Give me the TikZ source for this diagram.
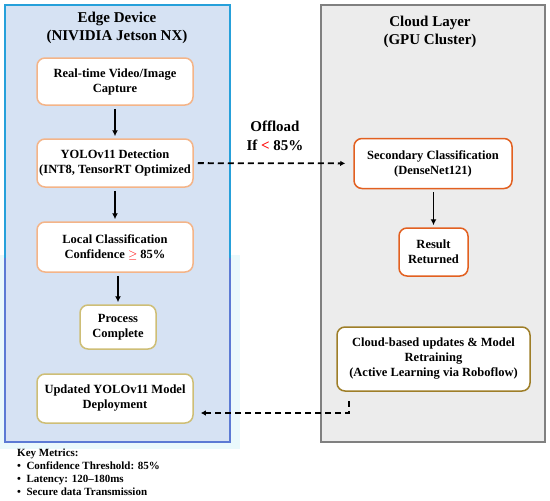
\documentclass[tikz,border=0pt]{standalone}
\usepackage{fontspec}
\setmainfont{Liberation Serif}
\usetikzlibrary{arrows.meta}
\definecolor{edgefill}{RGB}{214,226,243}
\definecolor{edgetop}{RGB}{38,160,218}
\definecolor{edgebot}{RGB}{92,122,212}
\definecolor{halo}{RGB}{234,249,252}
\definecolor{cloudfill}{RGB}{236,236,236}
\definecolor{cloudline}{RGB}{128,128,128}
\definecolor{softorange}{RGB}{244,180,136}
\definecolor{deeporange}{RGB}{226,96,32}
\definecolor{tan}{RGB}{206,190,118}
\definecolor{olive}{RGB}{158,126,40}
\begin{document}
\begin{tikzpicture}[x=1pt, y=-1pt,
  box/.style={draw=#1, rounded corners=8pt, line width=1.5pt, fill=white, align=center,
    font=\bfseries\fontsize{12.5}{15}\selectfont, inner sep=2pt},
  title/.style={align=center, font=\bfseries\fontsize{15}{18.5}\selectfont},
  flow/.style={-{Latex[length=6pt,width=6pt]}, line width=1.8pt, shorten <=3pt, shorten >=2pt},
  dasharrow/.style={-{Latex[length=5pt,width=5.5pt]}, line width=1.8pt, dash pattern=on 6pt off 4pt}]
  \useasboundingbox (0,0) rectangle (550,501);

  % panels
  \fill[halo] (0,255) rectangle (240,449);
  \fill[edgefill] (5,5) rectangle (230,442);
  \draw[edgetop, line width=2.5pt] (5,258) -- (5,5) -- (230,5) -- (230,258);
  \draw[edgebot, line width=2.5pt] (5,258) -- (5,442) -- (230,442) -- (230,258);
  \draw[cloudline, fill=cloudfill, line width=2.5pt] (321,5) rectangle (545,442);

  \node[title] (edgetitle) at (117,28) {Edge Device\\(NIVIDIA Jetson NX)};
  \node[title] (cloudtitle) at (430,32) {Cloud Layer\\(GPU Cluster)};

  % edge side
  \node[box=softorange, minimum width=156pt, minimum height=47pt] (cap) at (115,81.5)
    {Real-time Video/Image\\Capture};
  \node[box=softorange, minimum width=156pt, minimum height=48pt] (yolo) at (115,163)
    {YOLOv11 Detection\\(INT8, TensorRT Optimized};
  \node[box=softorange, minimum width=156pt, minimum height=50pt] (local) at (115,247)
    {Local Classification\\Confidence {\color{red}$\geq$} 85\%};
  \node[box=tan, minimum width=76pt, minimum height=44pt] (done) at (118,327)
    {Process\\Complete};
  \node[box=tan, minimum width=156pt, minimum height=49pt] (upd) at (115,398.5)
    {Updated YOLOv11 Model\\Deployment};

  % cloud side
  \node[box=deeporange, minimum width=158pt, minimum height=50pt] (sec) at (433,163.5)
    {Secondary Classification\\(DenseNet121)};
  \node[box=deeporange, minimum width=69pt, minimum height=48pt] (res) at (433.5,252)
    {Result\\Returned};
  \node[box=olive, minimum width=193pt, minimum height=64pt] (retrain) at (433.5,359)
    {Cloud-based updates \& Model\\Retraining\\(Active Learning via Roboflow)};

  \draw[flow] (cap) -- (yolo);
  \draw[flow] (yolo) -- (local);
  \draw[flow] (local.south -| done.north) -- (done);
  \draw[flow] (sec.south -| res.north) -- (res);

  \draw[dasharrow, shorten <=4pt, shorten >=8pt] (yolo) -- (sec);
  \node[title] (offload) at (275,136) {Offload\\If {\color{red}<} 85\%};

  \coordinate (back) at (349,401);
  \draw[dasharrow, shorten >=7pt] (back) |- ([yshift=-14.5pt]upd.east);

  \node[anchor=north west, align=left, font=\bfseries\fontsize{11}{13}\selectfont, inner sep=0pt] (metrics) at (17,449)
    {Key Metrics:\\
     \textbullet\enspace Confidence Threshold: 85\%\\
     \textbullet\enspace Latency: 120--180ms\\
     \textbullet\enspace Secure data Transmission};
\end{tikzpicture}
\end{document}
